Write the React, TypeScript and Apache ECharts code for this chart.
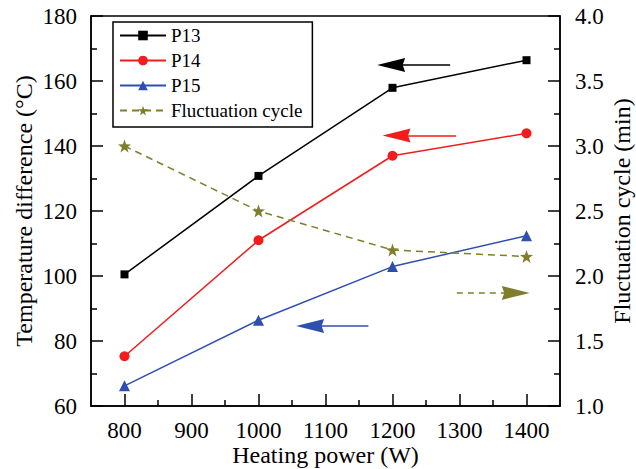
import React, { useEffect, useRef } from "react";
import * as echarts from "echarts";

const powers = [800, 1000, 1200, 1400];
const p13 = [100.5, 130.8, 157.9, 166.4];
const p14 = [75.3, 111.0, 137.0, 143.9];
const p15 = [66.2, 86.4, 102.9, 112.4];
const fluctuation = [3.0, 2.5, 2.2, 2.15];

const xMajorTicks = [800, 900, 1000, 1100, 1200, 1300, 1400];
const xMinorTicks = [850, 950, 1050, 1150, 1250, 1350];

// annotation arrows: [tailX, headCentreX, y]
const arrowP13 = [1286, 1198, 164.9];
const arrowP14 = [1295, 1206, 143.2];
const arrowP15 = [1164, 1077, 84.6];
const arrowFluct = [1296, 1384, 1.87];

const FONT = "Liberation Serif";
const STAR =
  "path://M0,-10 L2.35,-3.24 L9.51,-3.09 L3.8,1.24 L5.88,8.09 L0,4 L-5.88,8.09 L-3.8,1.24 L-9.51,-3.09 L-2.35,-3.24 Z";
const ARROW_HEAD = "path://M0,0L7,28L0,25.5L-7,28Z";

const C_BLACK = "#000000";
const C_RED = "#f21c1c";
const C_BLUE = "#2f4fb0";
const C_OLIVE = "#7f7f2b";

function pairs(xs: number[], ys: number[]) {
  return xs.map((x, i) => [x, ys[i]]);
}

function arrowMark(a: number[], color: string, dashed: boolean) {
  return {
    silent: true,
    symbol: ["none", ARROW_HEAD],
    symbolSize: [14, 28],
    label: { show: false },
    lineStyle: { color, width: 1.5, type: dashed ? [6, 5] : "solid" },
    itemStyle: { color },
    emphasis: { disabled: true },
    data: [[{ coord: [a[0], a[2]] }, { coord: [a[1], a[2]] }]],
  };
}

export default function App() {
  const ref = useRef<HTMLDivElement>(null);
  useEffect(() => {
    if (!ref.current) return;
    const chart = echarts.init(ref.current, undefined, { renderer: "svg" });
    const axisLine = { show: true, lineStyle: { color: "#000000", width: 1.5 } };
    const nameStyle = { fontFamily: FONT, fontSize: 24, color: "#000000" };
    const labelStyle = { fontFamily: FONT, fontSize: 23, color: "#000000" };
    chart.setOption({
      animation: false,
      backgroundColor: "#ffffff",
      textStyle: { fontFamily: FONT, color: "#000000" },
      grid: {
        left: 91,
        right: 76,
        top: 16,
        bottom: 63,
        outerBoundsMode: "none",
        containLabel: false,
        show: true,
        borderColor: "#000000",
        borderWidth: 1.5,
      },
      legend: {
        orient: "vertical",
        left: 113,
        top: 22,
        itemGap: 6,
        itemWidth: 46,
        itemHeight: 12,
        padding: [4, 10, 7, 6],
        borderColor: "#000000",
        borderWidth: 1.5,
        textStyle: { fontFamily: FONT, fontSize: 19, color: "#000000" },
        data: ["P13", "P14", "P15", "Fluctuation cycle"],
      },
      xAxis: [
        {
          type: "value",
          min: 750,
          max: 1450,
          interval: 50,
          name: "Heating power (W)",
          nameLocation: "middle",
          nameGap: 37,
          nameMoveOverlap: false,
          nameTextStyle: nameStyle,
          axisLine,
          splitLine: { show: false },
          axisTick: {
            show: true,
            inside: true,
            length: 12,
            customValues: xMajorTicks,
            lineStyle: { color: "#000000", width: 1.5 },
          },
          axisLabel: {
            customValues: xMajorTicks,
            margin: 13,
            ...labelStyle,
            formatter: (v: number) => String(v),
          },
        },
        {
          type: "value",
          min: 750,
          max: 1450,
          interval: 50,
          position: "bottom",
          axisLine: { show: false },
          splitLine: { show: false },
          axisTick: {
            show: true,
            inside: true,
            length: 6,
            customValues: xMinorTicks,
            lineStyle: { color: "#000000", width: 1.5 },
          },
          axisLabel: { show: false },
        },
      ],
      yAxis: [
        {
          type: "value",
          min: 60,
          max: 180,
          interval: 20,
          name: "Temperature difference (°C)",
          nameLocation: "middle",
          nameGap: 55,
          nameMoveOverlap: false,
          nameTextStyle: nameStyle,
          axisLine,
          splitLine: { show: false },
          axisTick: { show: true, inside: true, length: 12, lineStyle: { color: "#000000", width: 1.5 } },
          minorTick: { show: true, splitNumber: 2, length: 6, lineStyle: { color: "#000000", width: 1.5 } },
          axisLabel: { margin: 14, ...labelStyle },
        },
        {
          type: "value",
          min: 1,
          max: 4,
          interval: 0.5,
          position: "right",
          name: "Fluctuation cycle (min)",
          nameLocation: "middle",
          nameGap: 50,
          nameRotate: 90,
          nameMoveOverlap: false,
          nameTextStyle: nameStyle,
          axisLine,
          splitLine: { show: false },
          axisTick: { show: true, inside: true, length: 12, lineStyle: { color: "#000000", width: 1.5 } },
          minorTick: { show: true, splitNumber: 2, length: 6, lineStyle: { color: "#000000", width: 1.5 } },
          axisLabel: {
            margin: 15,
            ...labelStyle,
            formatter: (v: number) => v.toFixed(1),
          },
        },
      ],
      series: [
        {
          name: "P13",
          type: "line",
          xAxisIndex: 0,
          yAxisIndex: 0,
          data: pairs(powers, p13),
          symbol: "rect",
          symbolSize: 8,
          color: C_BLACK,
          lineStyle: { color: C_BLACK, width: 1.5 },
          itemStyle: { color: C_BLACK },
          markLine: arrowMark(arrowP13, C_BLACK, false),
        },
        {
          name: "P14",
          type: "line",
          xAxisIndex: 0,
          yAxisIndex: 0,
          data: pairs(powers, p14),
          symbol: "circle",
          symbolSize: 10,
          color: C_RED,
          lineStyle: { color: C_RED, width: 1.5 },
          itemStyle: { color: C_RED },
          markLine: arrowMark(arrowP14, C_RED, false),
        },
        {
          name: "P15",
          type: "line",
          xAxisIndex: 0,
          yAxisIndex: 0,
          data: pairs(powers, p15),
          symbol: "triangle",
          symbolSize: 11,
          color: C_BLUE,
          lineStyle: { color: C_BLUE, width: 1.5 },
          itemStyle: { color: C_BLUE },
          markLine: arrowMark(arrowP15, C_BLUE, false),
        },
        {
          name: "Fluctuation cycle",
          type: "line",
          xAxisIndex: 0,
          yAxisIndex: 1,
          data: pairs(powers, fluctuation),
          symbol: STAR,
          symbolSize: 13,
          color: C_OLIVE,
          lineStyle: { color: C_OLIVE, width: 1.5, type: [7, 5] },
          itemStyle: { color: C_OLIVE },
          markLine: arrowMark(arrowFluct, C_OLIVE, true),
        },
      ],
    });
    return () => chart.dispose();
  }, []);
  return (
    <div
      ref={ref}
      style={{ position: "fixed", left: 0, top: 0, width: 636, height: 469, background: "#fff" }}
    />
  );
}
